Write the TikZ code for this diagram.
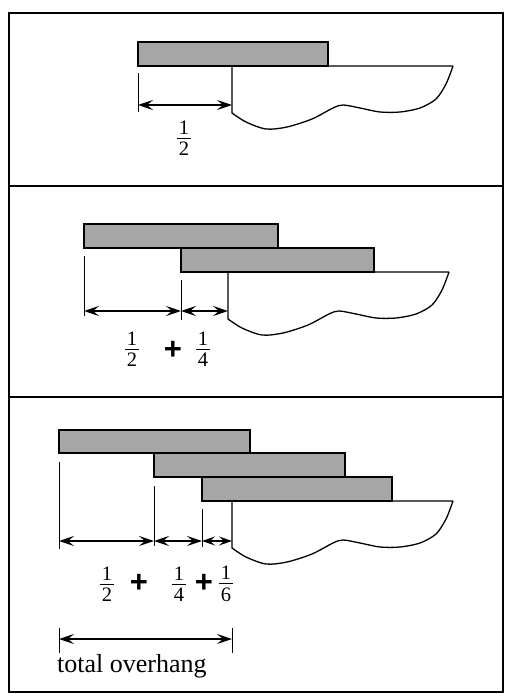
\documentclass[tikz,border=0pt]{standalone}
\usepackage{fontspec}
\setmainfont{Liberation Serif}
\newfontfamily\plusfont{Liberation Sans}
\usetikzlibrary{arrows.meta}

\tikzset{
  book/.style = {draw, line width=1.3pt, fill=black!35},
  desk/.style = {draw, line width=1.3pt},
  tick/.style = {line width=0.9pt},
  span/.style = {{Stealth[length=15pt,width=10pt,inset=6pt]}-{Stealth[length=15pt,width=10pt,inset=6pt]}, line width=1.9pt},
  short span/.style = {{Stealth[length=13pt,width=9pt,inset=5pt]}-{Stealth[length=13pt,width=9pt,inset=5pt]}, line width=1.6pt},
  frac/.style = {inner sep=0pt, font=\fontsize{20.5}{23}\selectfont},
  label/.style = {inner sep=0pt, font=\fontsize{26}{30}\selectfont},
  plus/.style = {inner sep=0pt, font=\plusfont\bfseries\fontsize{31}{34}\selectfont}
}

% fraction built from two text lines and a bar
\newcommand{\frc}[2]{\vbox{\offinterlineskip\halign{\hfil\kern1.5pt##\kern1.5pt\hfil\cr #1\cr\noalign{\kern3.5pt\hrule height 0.8pt\kern3.5pt}#2\cr}}}

% table edge, top left corner at (#1,#2)
\newcommand{\deskedge}[2]{%
  \draw[desk, shift={(#1,#2)}] (221,0) -- (0,0) -- plot[smooth] coordinates {(0,47) (14,56) (34,63) (55,61) (80,53) (101,42) (111,39) (128,42) (148,46) (168,46) (188,42) (204,33) (214,18) (221,0)};}

\begin{document}
\begin{tikzpicture}[x=1pt, y=-1pt]
\useasboundingbox (0,0) rectangle (510,700);
\draw [line width=1.5pt] (9,13) rectangle (503,692);
\draw [line width=1.5pt] (9,186) -- (503,186);
\draw [line width=1.5pt] (9,397) -- (503,397);

% one book
\draw [book] (138,42) rectangle (328,66);
\deskedge{232}{66}
\draw [tick] (138,73) -- (138,112);
\coordinate (p0) at (138,105);
\coordinate (p1) at (232,105);
\draw [span] (p0) -- (p1);
\node [frac] (f1) at (184,138) {\frc{1}{2}};

% two books
\draw [book] (84,224) rectangle (278,248);
\draw [book] (181,248) rectangle (374,272);
\deskedge{228}{272}
\draw [tick] (84,256) -- (84,316);
\draw [tick] (181,280) -- (181,320);
\coordinate (q0) at (84,311);
\coordinate (q1) at (181,311);
\coordinate (q2) at (228,311);
\draw [span] (q0) -- (q1);
\draw [span] (q1) -- (q2);
\node [frac] (g1) at (132,349) {\frc{1}{2}};
\node [plus] (g2) at (173,350) {+};
\node [frac] (g3) at (203,349) {\frc{1}{4}};

% three books
\draw [book] (59,430) rectangle (250,453);
\draw [book] (154,453) rectangle (345,477);
\draw [book] (202,477) rectangle (392,501);
\deskedge{232}{501}
\draw [tick] (59,462) -- (59,549);
\draw [tick] (154,486) -- (154,546);
\draw [tick] (202,509) -- (202,547);
\coordinate (r0) at (59,541);
\coordinate (r1) at (154,541);
\coordinate (r2) at (202,541);
\coordinate (r3) at (232,541);
\draw [span] (r0) -- (r1);
\draw [span] (r1) -- (r2);
\draw [short span] (r2) -- (r3);
\node [frac] (h1) at (107,584) {\frc{1}{2}};
\node [plus] (h2) at (139,583) {+};
\node [frac] (h3) at (179,584) {\frc{1}{4}};
\node [plus] (h4) at (204,583) {+};
\node [frac] (h5) at (226,584) {\frc{1}{6}};

% total
\draw [tick] (59,628) -- (59,653);
\draw [tick] (232,628) -- (232,653);
\coordinate (t0) at (59,639);
\coordinate (t1) at (232,639);
\draw [span] (t0) -- (t1);
\node [label, anchor=base west] (tot) at (57,672) {total overhang};
\end{tikzpicture}
\end{document}
